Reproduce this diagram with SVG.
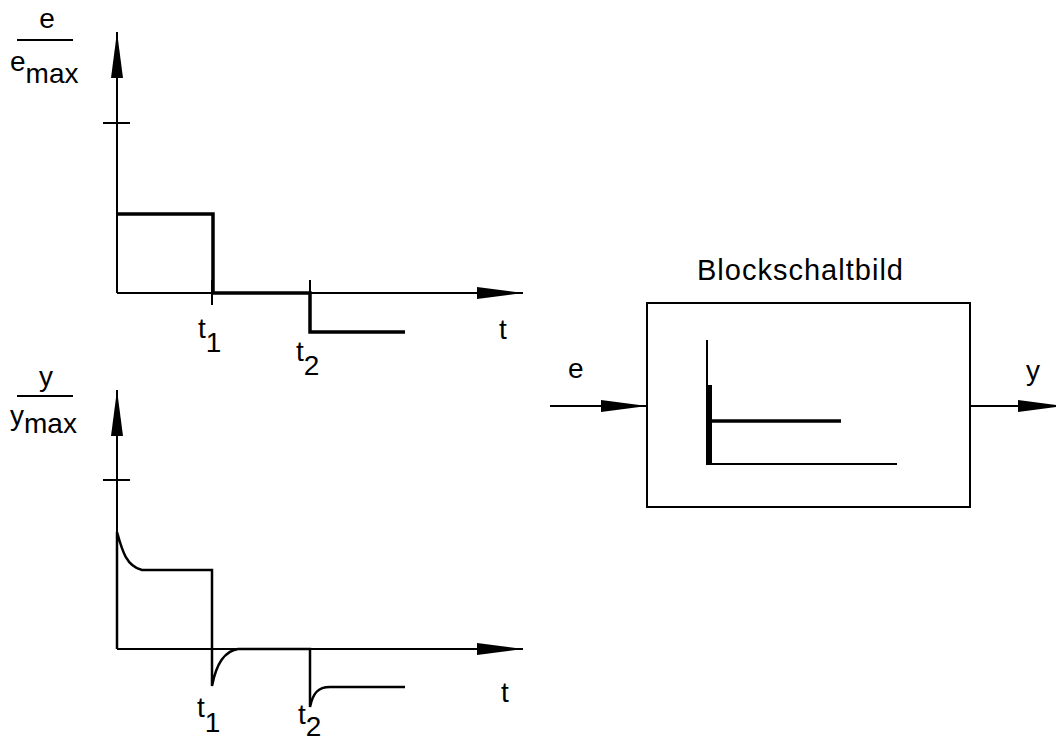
<svg xmlns="http://www.w3.org/2000/svg" width="1056" height="747" viewBox="0 0 1056 747">
<style>
  text { font-family: "Liberation Sans", Arial, sans-serif; fill: #000; }
  .lbl { font-size: 28px; }
  .sub { font-size: 28px; }
  .title { font-size: 29px; }
  .axis { stroke: #000; stroke-width: 2; fill: none; }
  .sig { stroke: #000; stroke-width: 3.5; fill: none; stroke-linejoin: miter; }
  .sig2 { stroke: #000; stroke-width: 2.5; fill: none; }
  .frac { stroke: #000; stroke-width: 2; }
</style>
<defs>
  <marker id="arr" viewBox="0 0 46 12" refX="46" refY="6" markerWidth="46" markerHeight="12" markerUnits="userSpaceOnUse" orient="auto">
    <path d="M0,0 L46,6 L0,12 Z" fill="#000"/>
  </marker>
</defs>
<rect width="1056" height="747" fill="#fff"/>

<g id="chart-e">
  <line class="frac" x1="17" y1="40" x2="73" y2="40"/>
  <text class="lbl" x="47" y="28" text-anchor="middle">e</text>
  <text class="lbl" x="10" y="71">e<tspan dy="12">max</tspan></text>
  <line class="axis" x1="117" y1="293" x2="117" y2="32" marker-end="url(#arr)"/>
  <line class="axis" x1="103" y1="123" x2="130" y2="123"/>
  <line class="axis" x1="117" y1="293" x2="523" y2="293" marker-end="url(#arr)"/>
  <line class="axis" x1="212" y1="280" x2="212" y2="305"/>
  <line class="axis" x1="310" y1="280" x2="310" y2="293"/>
  <path class="sig" d="M117,214 L213,214 L213,293 L310,293 L310,332 L405,332"/>
  <text class="lbl" x="198" y="338">t<tspan class="sub" dy="14">1</tspan></text>
  <text class="lbl" x="296" y="361">t<tspan class="sub" dy="14">2</tspan></text>
  <text class="lbl" x="499" y="339">t</text>
</g>

<g id="chart-y">
  <line class="frac" x1="17" y1="396" x2="73" y2="396"/>
  <text class="lbl" x="46" y="386" text-anchor="middle">y</text>
  <text class="lbl" x="10" y="425">y<tspan dy="8">max</tspan></text>
  <line class="axis" x1="117" y1="649" x2="117" y2="390" marker-end="url(#arr)"/>
  <line class="axis" x1="103" y1="480" x2="130" y2="480"/>
  <line class="axis" x1="117" y1="649" x2="523" y2="649" marker-end="url(#arr)"/>
  <path class="sig2" d="M117,649 L117,532 C122,550 126,566 142,570 L212,570 L212,686 C216,665 224,651 238,649 L310,649 L310,707 C313,693 318,687 330,687 L405,687"/>
  <text class="lbl" x="197" y="717">t<tspan class="sub" dy="15">1</tspan></text>
  <text class="lbl" x="298" y="724">t<tspan class="sub" dy="12">2</tspan></text>
  <text class="lbl" x="501" y="702">t</text>
</g>

<g id="block">
  <text class="title" x="800" y="280" text-anchor="middle" textLength="206">Blockschaltbild</text>
  <rect x="647" y="303" width="323" height="204" fill="none" stroke="#000" stroke-width="2"/>
  <line x1="707" y1="340" x2="707" y2="465" stroke="#000" stroke-width="2"/>
  <rect x="706" y="385" width="6" height="80" fill="#000"/>
  <line x1="712" y1="421" x2="841" y2="421" stroke="#000" stroke-width="3.5"/>
  <line x1="706" y1="464" x2="897" y2="464" stroke="#000" stroke-width="2"/>
</g>

<g id="connectors">
  <line class="axis" x1="550" y1="406" x2="647" y2="406" marker-end="url(#arr)"/>
  <line class="axis" x1="970" y1="406" x2="1064" y2="406" marker-end="url(#arr)"/>
  <text class="lbl" x="568" y="378">e</text>
  <text class="lbl" x="1026" y="380">y</text>
</g>
</svg>
